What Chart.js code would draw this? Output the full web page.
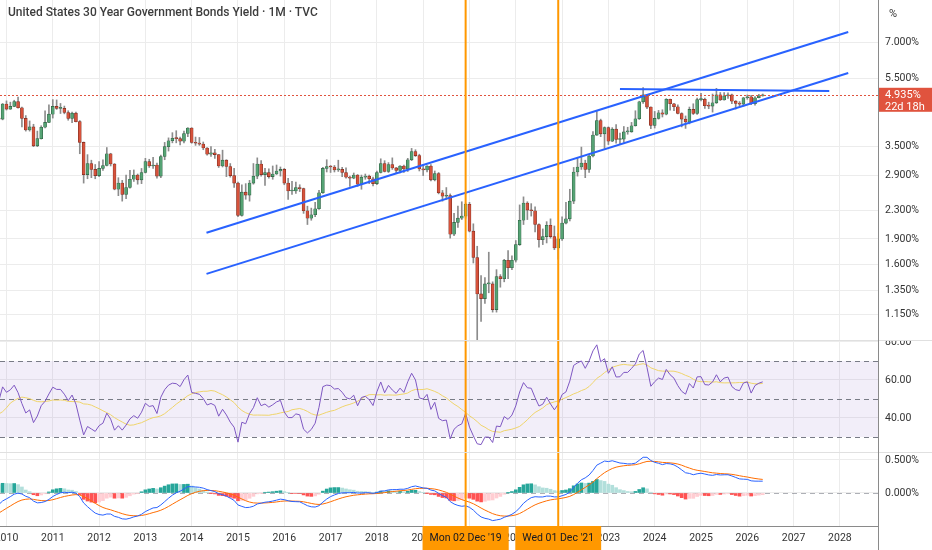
<!DOCTYPE html>
<html>
<head>
<meta charset="utf-8">
<script src="https://cdn.jsdelivr.net/npm/chart.js@4.4.1/dist/chart.umd.min.js"></script>
<style>
html, body { margin: 0; padding: 0; background: #fff; }
#wrap { position: relative; width: 932px; height: 550px; overflow: hidden; font-family: Roboto, "Liberation Sans", sans-serif; }
canvas { position: absolute; left: 0; }
#main { top: 0; }
#rsi { top: 340px; }
#macd { top: 452px; }
.sep { position: absolute; left: 0; width: 932px; height: 1px; background: #e0e0e0; }
#axisline { position: absolute; left: 878px; top: 0; width: 1px; height: 550px; background: #8a8a8a; }
#title { position: absolute; left: 8px; top: 5px; font-size: 12px; font-weight: 500; color: #3d3d3d; white-space: nowrap; }
#unit { position: absolute; left: 889px; top: 7px; font-size: 11px; color: #333; }
</style>
</head>
<body>
<div id="wrap">
  <canvas id="main" width="932" height="340"></canvas>
  <canvas id="rsi" width="932" height="112"></canvas>
  <canvas id="macd" width="932" height="98"></canvas>
  <div class="sep" style="top:340px"></div>
  <div class="sep" style="top:452px"></div>
  <div id="axisline"></div>
  <div id="title">United States 30 Year Government Bonds Yield · 1M · TVC</div>
  <div id="unit">%</div>
</div>
<script>
// monthly bars, first bar is Jan 2007 (bars before Nov 2009 sit left of the view)
const FIRST_YEAR = 2007;
const FIRST_OPEN = 4.81;

const closes = [
  4.91, 4.68, 4.84, 4.81, 5.01, 5.12, 4.91, 4.83, 4.83, 4.72, 4.40, 4.45, // 2007
  4.31, 4.43, 4.30, 4.48, 4.71, 4.53, 4.58, 4.43, 4.31, 4.33, 3.44, 2.69, // 2008
  3.58, 3.56, 3.56, 4.07, 4.34, 4.32, 4.30, 4.17, 4.03, 4.23, 4.20, 4.64, // 2009
  4.49, 4.57, 4.72, 4.53, 4.22, 3.91, 3.99, 3.52, 3.69, 3.98, 4.11, 4.34, // 2010
  4.57, 4.51, 4.51, 4.39, 4.22, 4.37, 4.13, 3.60, 2.91, 3.13, 3.01, 2.89, // 2011
  3.03, 3.09, 3.34, 3.12, 2.64, 2.75, 2.55, 2.67, 2.82, 2.90, 2.81, 2.95, // 2012
  3.17, 3.08, 3.10, 2.88, 3.28, 3.50, 3.64, 3.70, 3.69, 3.63, 3.82, 3.96, // 2013
  3.60, 3.58, 3.56, 3.47, 3.33, 3.36, 3.32, 3.08, 3.20, 3.07, 2.89, 2.75, // 2014
  2.22, 2.59, 2.54, 2.75, 2.88, 3.12, 2.91, 2.95, 2.87, 2.92, 2.98, 3.01, // 2015
  2.75, 2.61, 2.61, 2.67, 2.65, 2.29, 2.18, 2.23, 2.32, 2.58, 3.03, 3.07, // 2016
  3.06, 3.00, 3.01, 2.95, 2.86, 2.84, 2.90, 2.73, 2.86, 2.88, 2.83, 2.74, // 2017
  2.95, 3.13, 2.97, 3.11, 3.04, 2.99, 3.08, 3.02, 3.21, 3.39, 3.30, 3.02, // 2018
  3.00, 3.08, 2.81, 2.93, 2.58, 2.52, 2.53, 1.96, 2.12, 2.18, 2.21, 2.39, // 2019
  2.00, 1.68, 1.32, 1.28, 1.41, 1.41, 1.19, 1.48, 1.46, 1.65, 1.57, 1.65, // 2020
  1.83, 2.15, 2.41, 2.30, 2.29, 2.09, 1.89, 1.93, 2.08, 1.93, 1.79, 1.90, // 2021
  2.11, 2.17, 2.44, 2.96, 3.06, 3.14, 3.01, 3.29, 3.78, 4.16, 3.81, 3.97, // 2022
  3.63, 3.93, 3.67, 3.68, 3.86, 3.86, 4.02, 4.21, 4.71, 4.93, 4.55, 4.03, // 2023
  4.22, 4.38, 4.34, 4.79, 4.65, 4.56, 4.36, 4.20, 4.12, 4.48, 4.36, 4.78, // 2024
  4.79, 4.59, 4.58, 4.68, 4.93, 4.77, 4.90, 4.93, 4.73, 4.66, 4.64, 4.84, // 2025
  4.87, 4.65, 4.84, 4.90, 4.935                                          // 2026
];

const highs = [
  4.97, 4.96, 4.86, 4.91, 5.04, 5.37, 5.17, 5.02, 4.96, 4.87, 4.73, 4.66,
  4.60, 4.71, 4.55, 4.60, 4.77, 4.79, 4.76, 4.64, 4.55, 4.55, 4.36, 3.49,
  3.62, 3.79, 3.78, 4.10, 4.63, 4.76, 4.51, 4.56, 4.31, 4.35, 4.43, 4.66,
  4.74, 4.70, 4.76, 4.86, 4.55, 4.30, 4.15, 4.06, 3.88, 4.02, 4.44, 4.62,
  4.78, 4.77, 4.66, 4.58, 4.44, 4.40, 4.40, 4.16, 3.61, 3.32, 3.20, 3.11,
  3.17, 3.21, 3.48, 3.35, 3.13, 2.85, 2.80, 2.90, 2.99, 3.00, 2.92, 3.03,
  3.24, 3.22, 3.26, 3.14, 3.31, 3.60, 3.71, 3.84, 3.89, 3.73, 3.88, 3.97,
  3.97, 3.73, 3.72, 3.61, 3.48, 3.50, 3.44, 3.32, 3.42, 3.21, 3.13, 3.03,
  2.77, 2.72, 2.74, 2.80, 3.13, 3.25, 3.19, 3.03, 3.02, 3.08, 3.10, 3.06,
  3.03, 2.84, 2.78, 2.77, 2.72, 2.66, 2.36, 2.33, 2.42, 2.62, 3.05, 3.21,
  3.09, 3.09, 3.20, 3.05, 3.04, 2.88, 2.94, 2.91, 2.90, 2.92, 2.90, 2.86,
  2.98, 3.23, 3.19, 3.15, 3.25, 3.05, 3.09, 3.10, 3.24, 3.46, 3.43, 3.33,
  3.10, 3.09, 3.11, 2.98, 2.95, 2.62, 2.67, 2.56, 2.25, 2.36, 2.43, 2.41,
  2.42, 2.10, 1.81, 1.49, 1.47, 1.74, 1.43, 1.55, 1.50, 1.66, 1.76, 1.70,
  1.88, 2.38, 2.51, 2.43, 2.40, 2.35, 2.10, 2.03, 2.13, 2.17, 2.07, 1.97,
  2.20, 2.42, 2.64, 3.05, 3.24, 3.49, 3.20, 3.31, 3.87, 4.42, 4.20, 3.99,
  3.99, 3.97, 4.05, 3.83, 4.00, 3.98, 4.11, 4.44, 4.73, 5.18, 4.94, 4.56,
  4.42, 4.45, 4.47, 4.81, 4.80, 4.66, 4.62, 4.38, 4.29, 4.55, 4.65, 4.83,
  4.98, 4.83, 4.70, 4.96, 5.15, 5.01, 5.01, 5.00, 4.96, 4.75, 4.72, 4.85,
  4.93, 4.92, 4.88, 4.95, 4.96
];

const lows = [
  4.77, 4.62, 4.59, 4.79, 4.79, 5.00, 4.89, 4.58, 4.63, 4.62, 4.36, 4.33,
  4.22, 4.30, 4.18, 4.25, 4.45, 4.46, 4.51, 4.39, 4.06, 3.94, 3.40, 2.52,
  2.65, 3.44, 3.47, 3.52, 4.07, 4.22, 4.14, 4.13, 3.93, 4.00, 4.15, 4.18,
  4.46, 4.48, 4.56, 4.52, 3.99, 3.88, 3.88, 3.50, 3.50, 3.68, 3.96, 4.10,
  4.23, 4.48, 4.36, 4.35, 4.17, 4.10, 4.12, 3.34, 2.75, 2.83, 2.85, 2.83,
  2.87, 2.99, 3.08, 3.08, 2.63, 2.53, 2.44, 2.48, 2.66, 2.78, 2.73, 2.74,
  2.94, 3.05, 3.03, 2.84, 2.85, 3.21, 3.40, 3.59, 3.59, 3.54, 3.59, 3.74,
  3.58, 3.53, 3.53, 3.43, 3.31, 3.28, 3.24, 3.05, 3.06, 2.87, 2.86, 2.67,
  2.20, 2.21, 2.47, 2.44, 2.73, 2.83, 2.88, 2.71, 2.84, 2.82, 2.91, 2.88,
  2.72, 2.47, 2.55, 2.57, 2.60, 2.25, 2.09, 2.15, 2.20, 2.31, 2.57, 2.96,
  2.95, 2.96, 2.97, 2.87, 2.84, 2.69, 2.83, 2.69, 2.64, 2.82, 2.74, 2.70,
  2.72, 2.94, 2.96, 2.95, 3.01, 2.93, 2.94, 2.95, 2.97, 3.19, 3.28, 2.98,
  2.89, 2.96, 2.79, 2.79, 2.56, 2.44, 2.47, 1.91, 1.94, 2.05, 2.16, 2.18,
  1.99, 1.62, 0.70, 1.10, 1.24, 1.33, 1.17, 1.17, 1.38, 1.43, 1.46, 1.55,
  1.63, 1.82, 2.09, 2.16, 2.21, 1.99, 1.80, 1.83, 1.85, 1.91, 1.77, 1.66,
  1.88, 2.10, 2.14, 2.40, 2.88, 3.01, 2.85, 2.95, 3.27, 3.77, 3.74, 3.46,
  3.55, 3.62, 3.58, 3.56, 3.60, 3.80, 3.85, 4.01, 4.19, 4.66, 4.50, 3.94,
  3.96, 4.20, 4.26, 4.32, 4.46, 4.44, 4.35, 3.99, 3.95, 4.07, 4.33, 4.33,
  4.74, 4.51, 4.50, 4.40, 4.66, 4.75, 4.76, 4.82, 4.65, 4.49, 4.59, 4.58,
  4.79, 4.62, 4.61, 4.83, 4.89
];

// axis ticks
const YEAR_TICKS = [2010, 2011, 2012, 2013, 2014, 2015, 2016, 2017, 2018, 2019,
                    2020, 2021, 2022, 2023, 2024, 2025, 2026, 2027, 2028];
const PRICE_TICKS = [1.15, 1.35, 1.6, 1.9, 2.3, 2.9, 3.5, 5.5, 7];
const RSI_TICKS = [40, 60, 80];
const MACD_TICKS = [0, 0.5];

// drawings on the price pane (decimal year, yield %)
const channelUpper = [{x: 2014.32, y: 1.98}, {x: 2028.18, y: 7.48}];
const channelLower = [{x: 2014.32, y: 1.507}, {x: 2028.18, y: 5.70}];
const resistance = [{x: 2023.25, y: 5.13}, {x: 2027.77, y: 5.06}];

// vertical date markers
const markers = [
    {x: 2019 + 11 / 12, label: "Mon 02 Dec '19"},
    {x: 2021 + 11 / 12, label: "Wed 01 Dec '21"}
];
const COUNTDOWN = '22d 18h';

// visible window
const X_MIN = 2009.86;
const X_MAX = 2028.823;

const UP = '#55a374';
const UP_BORDER = '#2d5e40';
const DOWN = '#d6523b';
const DOWN_BORDER = '#7a2c20';
const WICK = '#8c8c8c';
const BLUE = '#2962FF';
const ORANGE = '#FF9800';
const PRICE_RED = '#e0533e';
const GRID = '#ececec';
const TEXT = '#333333';
const FONT = 'Roboto, "Liberation Sans", sans-serif';

Chart.defaults.font.family = FONT;

function monthX(i) {
    return FIRST_YEAR + i / 12;
}

const opens = closes.map((c, i) => i === 0 ? FIRST_OPEN : closes[i - 1]);
const upBar = closes.map((c, i) => c >= opens[i]);
const lastClose = closes[closes.length - 1];

// ---- indicators (TradingView defaults: RSI 14 + SMA 14, MACD 12/26/9)
function rsi(src, len) {
    const out = src.map(() => null);
    let up = 0, dn = 0;
    for (let i = 1; i < src.length; i++) {
        const ch = src[i] - src[i - 1];
        const g = Math.max(ch, 0), l = Math.max(-ch, 0);
        if (i <= len) {
            up += g / len;
            dn += l / len;
            if (i < len) continue;
        } else {
            up = (up * (len - 1) + g) / len;
            dn = (dn * (len - 1) + l) / len;
        }
        out[i] = dn === 0 ? 100 : 100 - 100 / (1 + up / dn);
    }
    return out;
}

function sma(src, len) {
    return src.map((v, i) => {
        if (i < len - 1) return null;
        let s = 0;
        for (let k = i - len + 1; k <= i; k++) {
            if (src[k] === null) return null;
            s += src[k];
        }
        return s / len;
    });
}

function ema(src, len) {
    const a = 2 / (len + 1);
    const out = [];
    const seed = [];
    let prev = null;
    src.forEach(v => {
        if (v === null) { out.push(null); return; }
        if (prev === null) {
            seed.push(v);
            if (seed.length < len) { out.push(null); return; }
            prev = seed.reduce((p, q) => p + q, 0) / len;
        } else {
            prev = a * v + (1 - a) * prev;
        }
        out.push(prev);
    });
    return out;
}

const rsiLine = rsi(closes, 14);
const rsiMa = sma(rsiLine, 14);
const ema12 = ema(closes, 12);
const ema26 = ema(closes, 26);
const macdLine = closes.map((c, i) => ema12[i] === null || ema26[i] === null ? null : ema12[i] - ema26[i]);
const signalLine = ema(macdLine, 9);
const hist = macdLine.map((m, i) => m === null || signalLine[i] === null ? null : m - signalLine[i]);

function toPoints(arr) {
    return arr.map((v, i) => ({x: monthX(i), y: v})).filter(p => p.y !== null);
}

const histPoints = toPoints(hist);
const histColors = histPoints.map((p, k) => {
    const prev = k > 0 ? histPoints[k - 1].y : p.y;
    if (p.y >= 0) return p.y > prev ? '#26A69A' : '#B2DFDB';
    return p.y < prev ? '#FF5252' : '#FFCDD2';
});

// ---- overlay plugin: RSI band, level lines, date markers, last price
const overlay = {
    id: 'overlay',
    beforeDatasetsDraw(chart, args, o) {
        const {ctx, chartArea: a} = chart;
        const y = chart.scales.y;
        ctx.save();
        if (o.band) {
            const t = y.getPixelForValue(o.band[1]);
            const b = y.getPixelForValue(o.band[0]);
            ctx.fillStyle = 'rgba(126, 87, 194, 0.1)';
            ctx.fillRect(a.left, t, a.right - a.left, b - t);
        }
        (o.levels || []).forEach(v => {
            const py = Math.round(y.getPixelForValue(v)) + 0.5;
            ctx.strokeStyle = o.levelColor || '#787B86';
            ctx.lineWidth = 1;
            ctx.setLineDash([5, 4]);
            ctx.beginPath();
            ctx.moveTo(a.left, py);
            ctx.lineTo(a.right, py);
            ctx.stroke();
        });
        ctx.restore();
    },
    afterDatasetsDraw(chart, args, o) {
        const {ctx, chartArea: a} = chart;
        ctx.save();
        if (o.priceLine !== undefined) {
            const py = Math.round(chart.scales.y.getPixelForValue(o.priceLine)) + 0.5;
            ctx.strokeStyle = PRICE_RED;
            ctx.lineWidth = 1;
            ctx.setLineDash([2, 2]);
            ctx.beginPath();
            ctx.moveTo(a.left, py);
            ctx.lineTo(a.right, py);
            ctx.stroke();
            ctx.setLineDash([]);
        }
        ctx.strokeStyle = ORANGE;
        ctx.lineWidth = 2;
        markers.forEach(m => {
            const px = chart.scales.x.getPixelForValue(m.x);
            ctx.beginPath();
            ctx.moveTo(px, a.top);
            ctx.lineTo(px, a.bottom);
            ctx.stroke();
        });
        ctx.restore();
    },
    afterDraw(chart, args, o) {
        const {ctx, chartArea: a} = chart;
        ctx.save();
        if (o.priceLine !== undefined) {
            const py = chart.scales.y.getPixelForValue(o.priceLine);
            ctx.fillStyle = PRICE_RED;
            ctx.fillRect(a.right, py - 7, chart.width - a.right, 24);
            ctx.fillStyle = '#ffffff';
            ctx.font = '11px ' + FONT;
            ctx.textBaseline = 'middle';
            ctx.textAlign = 'left';
            ctx.fillText(o.priceLine.toFixed(3) + '%', a.right + 7, py);
            ctx.fillText(COUNTDOWN, a.right + 7, py + 12);
        }
        if (o.dateTags) {
            ctx.font = '10.5px ' + FONT;
            ctx.textBaseline = 'middle';
            ctx.textAlign = 'center';
            markers.forEach(m => {
                const px = chart.scales.x.getPixelForValue(m.x);
                const w = ctx.measureText(m.label).width + 14;
                ctx.fillStyle = ORANGE;
                ctx.fillRect(px - w / 2, a.bottom, w, chart.height - a.bottom);
                ctx.fillStyle = '#131722';
                ctx.fillText(m.label, px, a.bottom + 12);
            });
        }
        ctx.restore();
    }
};
Chart.register(overlay);

function xScale(showLabels) {
    return {
        type: 'linear',
        min: X_MIN,
        max: X_MAX,
        offset: false,
        afterBuildTicks: s => { s.ticks = YEAR_TICKS.map(v => ({value: v})); },
        afterFit: s => {
            s.paddingLeft = 0;
            s.paddingRight = 0;
            s.height = showLabels ? 24 : 0;
        },
        grid: {color: GRID, drawTicks: false, offset: false},
        border: {display: showLabels, color: '#8a8a8a'},
        ticks: {
            display: showLabels,
            autoSkip: false,
            maxRotation: 0,
            padding: 6,
            color: TEXT,
            font: {size: 10.5},
            callback: v => String(v)
        }
    };
}

function yScale(type, min, max, ticks, fmt) {
    return {
        type,
        position: 'right',
        min,
        max,
        afterBuildTicks: s => { s.ticks = ticks.map(v => ({value: v})); },
        afterFit: s => {
            s.width = 54;
            s.paddingTop = 0;
            s.paddingBottom = 0;
        },
        grid: {color: GRID, drawTicks: false},
        border: {display: false},
        ticks: {
            autoSkip: false,
            padding: 7,
            color: TEXT,
            font: {size: 10.5},
            callback: fmt
        }
    };
}

function baseOptions(x, y, overlayOpts) {
    return {
        responsive: false,
        animation: false,
        events: [],
        layout: {padding: 0},
        plugins: {
            legend: {display: false},
            tooltip: {enabled: false},
            overlay: overlayOpts
        },
        scales: {x, y}
    };
}

function trendLine(points) {
    return {
        type: 'line',
        data: points,
        borderColor: BLUE,
        borderWidth: 2,
        pointRadius: 0,
        order: 0
    };
}

// ---- price pane
new Chart(document.getElementById('main'), {
    type: 'bar',
    data: {
        datasets: [
            trendLine(channelUpper),
            trendLine(channelLower),
            trendLine(resistance),
            {
                type: 'bar',
                data: closes.map((c, i) => ({x: monthX(i), y: [opens[i], c]})),
                backgroundColor: upBar.map(u => u ? UP : DOWN),
                borderColor: upBar.map(u => u ? UP_BORDER : DOWN_BORDER),
                borderWidth: 0.6,
                borderSkipped: false,
                barThickness: 3,
                minBarLength: 1,
                grouped: false,
                order: 1
            },
            {
                type: 'bar',
                data: closes.map((c, i) => ({x: monthX(i), y: [lows[i], highs[i]]})),
                backgroundColor: WICK,
                barThickness: 1,
                grouped: false,
                order: 2
            }
        ]
    },
    options: baseOptions(
        xScale(false),
        yScale('logarithmic', 0.9728, 9.245, PRICE_TICKS, v => Number(v).toFixed(3) + '%'),
        {priceLine: lastClose}
    )
});

// ---- RSI pane
new Chart(document.getElementById('rsi'), {
    type: 'line',
    data: {
        datasets: [
            {
                data: toPoints(rsiLine),
                borderColor: '#7E57C2',
                borderWidth: 1,
                pointRadius: 0,
                tension: 0
            },
            {
                data: toPoints(rsiMa),
                borderColor: '#EFD46A',
                borderWidth: 1,
                pointRadius: 0,
                tension: 0
            }
        ]
    },
    options: baseOptions(
        xScale(false),
        yScale('linear', 22.1, 81.05, RSI_TICKS, v => Number(v).toFixed(2)),
        {band: [30, 70], levels: [30, 50, 70]}
    )
});

// ---- MACD pane
new Chart(document.getElementById('macd'), {
    type: 'bar',
    data: {
        datasets: [
            {
                type: 'line',
                data: toPoints(macdLine),
                borderColor: BLUE,
                borderWidth: 1,
                pointRadius: 0,
                tension: 0,
                order: 0
            },
            {
                type: 'line',
                data: toPoints(signalLine),
                borderColor: '#FF6D00',
                borderWidth: 1,
                pointRadius: 0,
                tension: 0,
                order: 0
            },
            {
                type: 'bar',
                data: histPoints,
                backgroundColor: histColors,
                barThickness: 3,
                grouped: false,
                order: 1
            }
        ]
    },
    options: baseOptions(
        xScale(true),
        yScale('linear', -0.5, 0.621, MACD_TICKS, v => Number(v).toFixed(3) + '%'),
        {levels: [0], levelColor: 'rgba(120, 123, 134, 0.6)', dateTags: true}
    )
});
</script>
</body>
</html>
